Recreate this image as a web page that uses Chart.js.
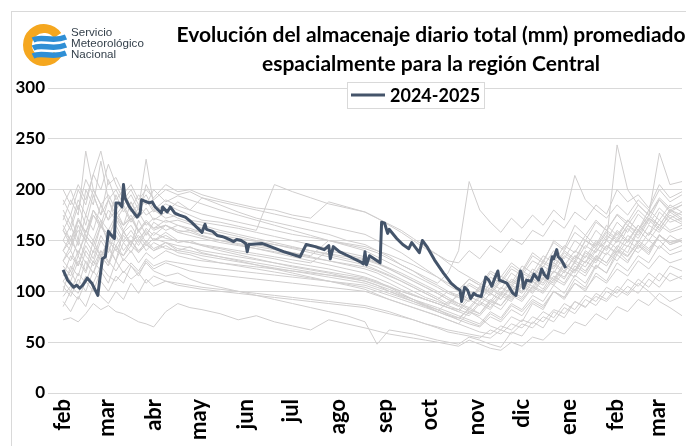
<!DOCTYPE html>
<html lang="es">
<head>
<meta charset="utf-8">
<title>Almacenaje diario - región Central</title>
<script src="https://cdn.jsdelivr.net/npm/chart.js@4.4.1/dist/chart.umd.min.js"></script>
<style>
  html, body { margin: 0; padding: 0; background: #fff; overflow: hidden; width: 686px; height: 446px; }
  .frame { position: absolute; left: 11px; top: 11px; width: 900px; height: 500px; border-left: 1px solid #d9d9d9; border-top: 1px solid #d9d9d9; }
  #chart { position: absolute; left: 11px; top: 11px; }
  .logo { position: absolute; left: 20px; top: 22px; }
  .logo-text { position: absolute; left: 71px; top: 27px; font: 11.6px/10.8px "Liberation Sans", Arial, sans-serif; color: #333f4a; }
</style>
</head>
<body>
<div class="frame"></div>
<canvas id="chart" width="840" height="470"></canvas>
<svg class="logo" width="52" height="48" viewBox="0 0 52 48">
  <path d="M 37.5 13.5 A 16.5 16.5 0 1 0 37.5 32.5" fill="none" stroke="#f5a71f" stroke-width="9"/>
  <path d="M 13 18 C 22 13, 32 21, 46 15" fill="none" stroke="#2f8fd5" stroke-width="5.5"/>
  <path d="M 13 26 C 22 21, 32 29, 46 23" fill="none" stroke="#2f8fd5" stroke-width="5.5"/>
  <path d="M 13 34 C 22 29, 32 37, 46 31" fill="none" stroke="#2f8fd5" stroke-width="5.5"/>
</svg>
<div class="logo-text">Servicio<br>Meteorológico<br>Nacional</div>
<script>
// x axis: days since 1 Feb, ticks on the first day of each month
const monthDays = [0, 29, 60, 90, 121, 151, 182, 213, 243, 274, 304, 335, 366, 394];
const monthLabels = ['feb', 'mar', 'abr', 'may', 'jun', 'jul', 'ago', 'sep', 'oct', 'nov', 'dic', 'ene', 'feb', 'mar'];
const yTicks = [0, 50, 100, 150, 200, 250, 300];

// 2024-2025 season
const days2425 = [0, 3, 7, 9, 11, 13, 16, 19, 23, 26, 28, 30, 32, 34, 35, 37, 39, 40, 41, 44, 49, 51, 52, 57, 59, 61, 65, 66, 69, 71, 74, 77, 81, 85, 92, 94, 95, 99, 102, 105, 107, 110, 113, 115, 118, 121, 122, 123, 132, 134, 146, 157, 161, 167, 173, 176, 177, 179, 183, 190, 197, 199, 200, 201, 203, 207, 210, 211, 213, 215, 216, 221, 225, 229, 231, 233, 236, 238, 241, 246, 252, 257, 261, 263, 264, 266, 268, 270, 272, 274, 277, 280, 282, 284, 286, 288, 289, 294, 298, 300, 302, 303, 304, 305, 307, 310, 312, 315, 317, 319, 321, 324, 325, 327, 328, 330, 333];
const values2425 = [121, 111, 104, 106, 103, 106, 113, 108, 96, 132, 134, 159, 155, 152, 187, 187, 183, 205, 192, 183, 173, 177, 190, 187, 188, 183, 177, 183, 178, 183, 177, 175, 173, 168, 158, 166, 161, 159, 155, 154, 153, 151, 149, 151, 150, 147, 139, 146, 147, 146, 139, 134, 146, 144, 141, 145, 132, 144, 139, 134, 129, 127, 139, 126, 135, 131, 128, 168, 167, 157, 161, 152, 146, 142, 148, 144, 138, 150, 144, 131, 118, 108, 103, 101, 90, 104, 101, 93, 98, 96, 95, 114, 111, 105, 113, 120, 111, 108, 98, 96, 113, 120, 116, 103, 111, 110, 117, 111, 122, 116, 113, 134, 132, 141, 134, 131, 123];

// earlier seasons, sampled on a shared day grid
const grayDays = [0, 5, 10, 15, 20, 25, 30, 35, 40, 45, 50, 55, 60, 68, 76, 84, 92, 104, 116, 128, 140, 152, 164, 176, 188, 200, 208, 216, 224, 232, 240, 248, 255, 262, 269, 276, 283, 290, 297, 304, 311, 318, 325, 332, 339, 346, 353, 360, 367, 374, 381, 388, 395, 402, 410];
const grayA = [200, 185, 205, 190, 215, 238, 205, 212, 196, 205, 190, 200, 192, 205, 198, 200, 195, 190, 186, 182, 180, 175, 172, 188, 183, 178, 172, 165, 158, 150, 142, 136, 130, 128, 140, 132, 145, 138, 152, 146, 160, 154, 170, 162, 178, 170, 185, 176, 200, 188, 195, 182, 205, 192, 198];
const grayB = [160, 175, 150, 200, 185, 228, 190, 175, 185, 170, 182, 230, 185, 178, 188, 180, 192, 185, 178, 172, 168, 164, 160, 156, 150, 146, 140, 134, 126, 120, 112, 106, 100, 96, 108, 102, 118, 110, 125, 118, 135, 128, 150, 142, 165, 155, 170, 160, 175, 165, 180, 170, 190, 178, 185];
const grayC = [140, 155, 135, 160, 150, 170, 145, 165, 150, 160, 148, 162, 155, 165, 158, 160, 155, 150, 146, 142, 138, 134, 130, 126, 122, 118, 113, 108, 102, 97, 92, 88, 84, 82, 95, 90, 104, 98, 112, 106, 122, 115, 132, 125, 140, 133, 150, 142, 160, 150, 165, 155, 170, 160, 165];
const grayD = [120, 110, 130, 118, 140, 132, 150, 140, 135, 145, 138, 150, 142, 148, 140, 144, 138, 134, 130, 126, 122, 118, 114, 110, 106, 102, 97, 92, 88, 84, 80, 76, 72, 68, 80, 74, 66, 62, 75, 70, 88, 82, 100, 94, 112, 104, 125, 118, 140, 130, 145, 136, 155, 146, 150];
const grayE = [72, 74, 70, 78, 88, 82, 86, 80, 78, 74, 70, 68, 65, 80, 88, 84, 82, 78, 72, 76, 70, 66, 62, 72, 68, 64, 61, 58, 56, 54, 52, 50, 48, 46, 52, 48, 44, 42, 50, 46, 55, 52, 62, 58, 70, 66, 78, 72, 85, 80, 92, 86, 98, 90, 95];
const grayF = [130, 145, 160, 150, 175, 165, 190, 200, 185, 195, 180, 190, 178, 186, 180, 175, 170, 168, 164, 160, 205, 198, 192, 186, 182, 178, 172, 166, 160, 152, 144, 136, 128, 120, 114, 108, 102, 96, 110, 104, 118, 112, 128, 120, 135, 128, 142, 136, 150, 144, 160, 150, 165, 158, 162];
const grayG = [180, 165, 190, 175, 200, 185, 170, 180, 165, 175, 160, 170, 162, 170, 165, 160, 158, 154, 150, 146, 142, 138, 134, 130, 126, 122, 118, 112, 106, 100, 94, 90, 86, 98, 92, 105, 100, 115, 108, 125, 118, 135, 128, 145, 138, 155, 145, 165, 155, 170, 160, 175, 165, 180, 172];
const grayH = [100, 125, 115, 140, 128, 150, 138, 160, 148, 155, 145, 158, 150, 155, 148, 150, 145, 140, 136, 132, 128, 124, 121, 118, 114, 110, 106, 100, 95, 90, 85, 80, 90, 85, 100, 94, 108, 102, 118, 110, 105, 118, 112, 128, 120, 138, 130, 145, 136, 150, 142, 158, 150, 140, 145];
const grayI = [160, 150, 170, 158, 175, 162, 180, 170, 165, 172, 160, 168, 162, 165, 160, 158, 154, 150, 147, 144, 141, 138, 135, 150, 146, 142, 138, 132, 126, 120, 114, 108, 118, 140, 208, 180, 168, 158, 172, 162, 175, 165, 180, 170, 214, 190, 180, 172, 185, 175, 190, 180, 200, 188, 195];
const grayJ = [150, 140, 165, 150, 180, 165, 155, 170, 158, 165, 152, 160, 150, 158, 150, 148, 145, 142, 138, 135, 132, 128, 125, 122, 118, 114, 110, 104, 98, 92, 86, 80, 76, 72, 84, 78, 92, 86, 100, 94, 110, 102, 120, 112, 130, 124, 140, 150, 244, 200, 185, 175, 190, 180, 185];
const grayK = [110, 120, 105, 130, 118, 140, 128, 145, 135, 150, 140, 148, 140, 145, 138, 136, 132, 128, 125, 122, 119, 116, 113, 110, 107, 104, 100, 96, 92, 88, 84, 80, 76, 74, 82, 78, 90, 86, 98, 92, 105, 100, 115, 108, 125, 118, 135, 128, 145, 138, 160, 175, 236, 205, 208];
const grayL = [95, 105, 98, 115, 108, 125, 115, 110, 120, 112, 118, 108, 115, 110, 108, 106, 104, 102, 100, 98, 96, 94, 92, 90, 88, 86, 83, 80, 76, 72, 68, 64, 60, 58, 56, 54, 62, 58, 68, 64, 75, 70, 82, 78, 90, 85, 95, 90, 102, 96, 108, 100, 90, 84, 76];
const grayM = [130, 140, 125, 150, 138, 165, 150, 145, 158, 148, 155, 145, 152, 148, 145, 143, 140, 137, 134, 131, 128, 125, 122, 119, 116, 113, 109, 105, 100, 96, 92, 88, 84, 80, 76, 88, 82, 96, 90, 105, 98, 112, 106, 120, 114, 130, 122, 138, 130, 145, 138, 150, 142, 155, 148];
const grayN = [170, 190, 175, 238, 200, 185, 195, 180, 192, 178, 185, 175, 180, 172, 175, 170, 168, 165, 162, 158, 154, 150, 146, 142, 138, 134, 128, 122, 116, 110, 104, 98, 92, 88, 84, 96, 90, 104, 98, 115, 108, 125, 118, 135, 128, 145, 138, 155, 148, 165, 155, 172, 162, 175, 168];
const grayO = [85, 100, 92, 110, 100, 120, 108, 130, 118, 128, 120, 132, 125, 130, 128, 126, 124, 122, 120, 118, 116, 114, 112, 110, 108, 106, 102, 98, 94, 90, 86, 82, 78, 74, 70, 66, 78, 72, 86, 80, 92, 86, 100, 94, 108, 102, 115, 108, 122, 115, 130, 122, 135, 128, 132];
const grayP = [190, 175, 200, 185, 215, 200, 225, 205, 190, 200, 185, 195, 180, 190, 184, 180, 176, 172, 168, 164, 160, 156, 153, 150, 147, 144, 140, 136, 131, 126, 120, 114, 108, 102, 112, 106, 98, 92, 104, 98, 112, 106, 120, 114, 128, 120, 135, 128, 142, 135, 150, 142, 155, 148, 152];
const grayQ = [140, 130, 150, 135, 125, 140, 130, 120, 132, 125, 118, 128, 120, 115, 118, 112, 108, 104, 100, 96, 92, 88, 84, 80, 76, 70, 48, 62, 60, 58, 55, 52, 50, 48, 55, 52, 48, 45, 60, 56, 70, 64, 80, 74, 90, 84, 98, 92, 105, 98, 112, 104, 118, 110, 115];
const grayR = [150, 165, 145, 175, 160, 185, 170, 195, 178, 188, 172, 182, 170, 178, 172, 168, 165, 160, 156, 152, 148, 144, 140, 136, 132, 128, 124, 118, 112, 106, 100, 94, 88, 96, 90, 102, 96, 110, 104, 118, 112, 128, 122, 138, 130, 150, 142, 158, 150, 165, 158, 172, 165, 180, 175];
const grayS = [125, 115, 135, 120, 150, 135, 125, 145, 130, 140, 128, 138, 132, 140, 135, 132, 130, 128, 126, 124, 122, 120, 118, 116, 114, 112, 108, 104, 100, 96, 92, 88, 84, 80, 92, 86, 98, 92, 106, 100, 115, 108, 126, 118, 135, 128, 148, 140, 158, 148, 165, 155, 178, 168, 172];
const grayT = [175, 160, 185, 165, 195, 175, 210, 190, 200, 182, 195, 185, 200, 188, 194, 190, 186, 180, 175, 170, 165, 160, 155, 150, 145, 140, 134, 128, 122, 116, 110, 104, 98, 94, 90, 104, 98, 112, 106, 120, 114, 130, 124, 140, 132, 150, 144, 160, 152, 170, 160, 180, 170, 185, 178];
const grayU = [110, 100, 118, 108, 130, 120, 145, 130, 160, 145, 170, 155, 168, 160, 165, 162, 158, 155, 152, 149, 146, 143, 140, 137, 134, 131, 127, 122, 116, 110, 104, 98, 92, 86, 80, 76, 88, 82, 96, 90, 104, 98, 112, 106, 122, 115, 132, 125, 140, 134, 148, 140, 155, 148, 150];
const grayV = [165, 150, 172, 158, 180, 170, 160, 175, 165, 188, 175, 205, 190, 200, 195, 198, 192, 188, 184, 180, 176, 172, 168, 164, 160, 156, 150, 144, 138, 130, 122, 114, 106, 100, 112, 106, 120, 114, 128, 120, 138, 130, 148, 140, 158, 150, 168, 160, 176, 168, 185, 175, 192, 182, 188];
const grayW = [130, 120, 140, 128, 118, 135, 125, 155, 140, 150, 138, 146, 140, 148, 142, 140, 137, 134, 131, 128, 125, 122, 119, 116, 113, 110, 106, 102, 97, 92, 87, 82, 77, 72, 68, 65, 75, 70, 82, 76, 90, 84, 100, 92, 108, 100, 118, 110, 128, 120, 135, 128, 145, 136, 140];
const grayX = [105, 95, 112, 100, 120, 110, 100, 115, 108, 125, 115, 130, 122, 128, 124, 120, 118, 116, 114, 112, 110, 108, 106, 104, 102, 100, 96, 92, 88, 84, 80, 76, 72, 68, 64, 60, 58, 66, 62, 72, 68, 80, 74, 88, 82, 96, 90, 104, 98, 112, 105, 118, 110, 125, 120];
const grayY = [185, 200, 180, 210, 195, 175, 190, 170, 182, 168, 178, 165, 172, 168, 170, 166, 162, 158, 154, 150, 146, 142, 138, 134, 130, 126, 121, 116, 110, 104, 98, 92, 86, 82, 78, 90, 84, 98, 92, 106, 100, 114, 108, 125, 118, 135, 128, 145, 138, 155, 148, 165, 158, 172, 166];
const grayZ = [140, 150, 138, 155, 145, 135, 150, 140, 155, 145, 160, 148, 158, 152, 150, 148, 146, 143, 140, 137, 134, 131, 128, 140, 136, 132, 128, 123, 118, 112, 106, 100, 94, 88, 82, 94, 88, 100, 94, 108, 102, 118, 110, 128, 120, 140, 132, 150, 142, 162, 152, 170, 160, 178, 170];
const grayAA = [115, 135, 125, 145, 132, 155, 142, 130, 148, 138, 152, 140, 148, 142, 140, 138, 135, 132, 129, 126, 123, 120, 117, 114, 111, 108, 104, 100, 96, 92, 88, 84, 80, 76, 72, 68, 80, 74, 88, 82, 96, 90, 106, 98, 116, 108, 126, 118, 136, 128, 146, 138, 156, 146, 150];
const grayAB = [160, 145, 170, 155, 145, 165, 150, 175, 160, 172, 158, 168, 160, 165, 158, 155, 152, 148, 145, 142, 139, 136, 133, 130, 127, 124, 120, 115, 110, 104, 98, 92, 100, 94, 106, 100, 114, 108, 122, 116, 130, 124, 140, 132, 150, 142, 160, 150, 168, 158, 176, 166, 182, 172, 178];
const grayAC = [90, 80, 95, 85, 105, 95, 88, 100, 92, 108, 98, 112, 105, 110, 106, 104, 102, 100, 98, 96, 94, 92, 90, 88, 86, 84, 81, 78, 75, 72, 68, 65, 62, 60, 58, 56, 54, 62, 58, 68, 64, 75, 70, 84, 78, 92, 86, 100, 94, 105, 98, 112, 104, 118, 112];
const graySeasons = [grayA, grayB, grayC, grayD, grayE, grayF, grayG, grayH, grayI, grayJ, grayK, grayL, grayM, grayN, grayO, grayP, grayQ,
    grayR, grayS, grayT, grayU, grayV, grayW, grayX, grayY, grayZ, grayAA, grayAB, grayAC];

const darkColor = '#44546a';
const grayColor = '#d0cece';
const yTickFont = { family: 'Lato', size: 17, weight: 'bold' };
const xTickFont = { family: 'Lato', size: 22, weight: 'bold' };

// Build datasets (first dataset is painted on top)
const datasets = [{
    label: '2024-2025',
    data: days2425.map((d, i) => ({ x: d, y: values2425[i] })),
    borderColor: darkColor,
    borderWidth: 3,
    borderJoinStyle: 'round',
    pointRadius: 0
}];
graySeasons.forEach(values => {
    datasets.push({
        label: '',
        data: grayDays.map((d, i) => ({ x: d, y: values[i] })),
        borderColor: grayColor,
        borderWidth: 1,
        pointRadius: 0
    });
});

// Boxed legend with only the current season
const boxLegend = {
    id: 'boxLegend',
    afterDraw(chart) {
        const ctx = chart.ctx;
        ctx.save();
        ctx.fillStyle = '#fff';
        ctx.fillRect(336, 71, 137, 26);
        ctx.strokeStyle = '#d9d9d9';
        ctx.lineWidth = 1;
        ctx.strokeRect(336.5, 71.5, 137, 26);
        ctx.strokeStyle = darkColor;
        ctx.lineWidth = 3;
        ctx.beginPath();
        ctx.moveTo(340, 84);
        ctx.lineTo(374, 84);
        ctx.stroke();
        ctx.fillStyle = '#000';
        ctx.font = 'bold 18px Lato';
        ctx.textBaseline = 'middle';
        ctx.fillText(datasets[0].label, 379, 85);
        ctx.restore();
    }
};

new Chart(document.getElementById('chart'), {
    type: 'line',
    data: { datasets: datasets },
    options: {
        responsive: false,
        animation: false,
        devicePixelRatio: 1,
        layout: { padding: 0 },
        plugins: {
            legend: { display: false },
            tooltip: { enabled: false },
            title: {
                display: true,
                text: ['Evolución del almacenaje diario total (mm) promediado', 'espacialmente para la región Central'],
                color: '#000',
                font: { family: 'Lato', size: 21, weight: 'bold', lineHeight: '29px' },
                padding: { top: 10, bottom: 9 }
            }
        },
        scales: {
            x: {
                type: 'linear',
                min: -10,
                max: 410,
                afterBuildTicks: scale => { scale.ticks = monthDays.map(d => ({ value: d })); },
                afterFit: scale => { scale.height = 88; },
                grid: { display: false, drawTicks: false },
                border: { display: false },
                ticks: {
                    autoSkip: false,
                    maxRotation: 90,
                    minRotation: 90,
                    padding: 6,
                    color: '#000',
                    font: xTickFont,
                    callback: (value, index) => monthLabels[index]
                }
            },
            y: {
                min: 0,
                max: 300,
                afterBuildTicks: scale => { scale.ticks = yTicks.map(v => ({ value: v })); },
                afterFit: scale => { scale.width = 37; },
                grid: { color: '#d9d9d9', drawTicks: false },
                border: { display: false },
                ticks: { padding: 3, color: '#000', font: yTickFont }
            },
            spare: {
                position: 'right',
                afterFit: scale => { scale.width = 169; },
                grid: { display: false, drawTicks: false },
                border: { display: false },
                ticks: { display: false }
            }
        }
    },
    plugins: [boxLegend]
});
</script>
</body>
</html>
